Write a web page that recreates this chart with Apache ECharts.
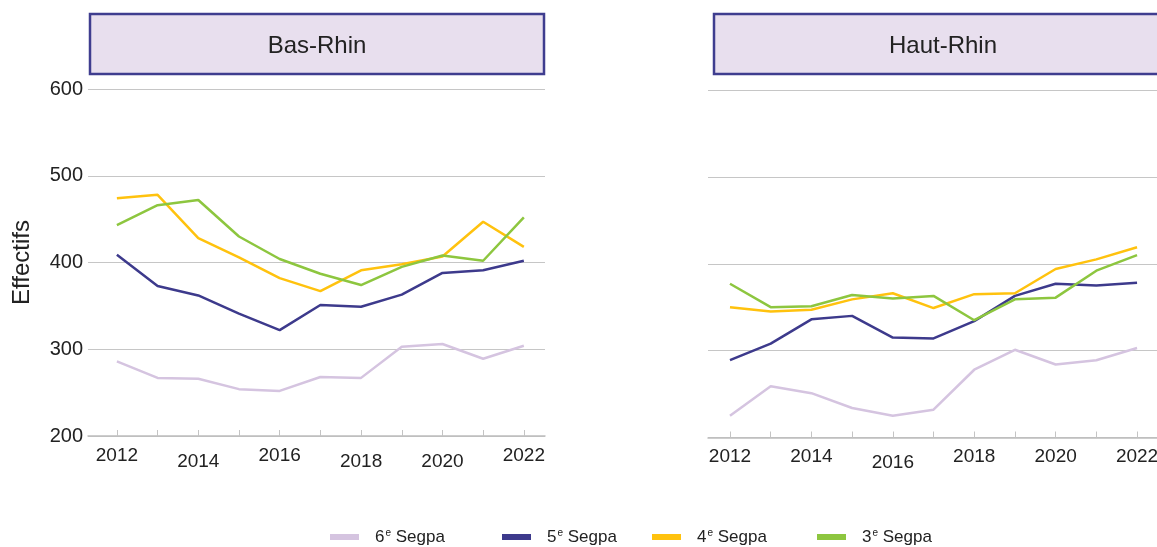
<!DOCTYPE html>
<html>
<head>
<meta charset="utf-8">
<script src="https://cdn.jsdelivr.net/npm/echarts@6/dist/echarts.min.js"></script>
<style>
  html, body { margin: 0; padding: 0; background: #fff; }
  #chart { width: 1157px; height: 547px; }
</style>
</head>
<body>
<div id="chart"></div>
<script>
// données
const years = [2012, 2013, 2014, 2015, 2016, 2017, 2018, 2019, 2020, 2021, 2022]
const yearLabels = [2012, 2014, 2016, 2018, 2020, 2022]
const yTicks = [200, 300, 400, 500, 600]
const panels = ['Bas-Rhin', 'Haut-Rhin']
const seriesNames = ['6e Segpa', '5e Segpa', '4e Segpa', '3e Segpa']

const basRhin6 = [286, 267, 266, 254, 252, 268, 267, 303, 306, 289, 304]
const basRhin5 = [409, 373, 362, 341, 322, 351, 349, 363, 388, 391, 402]
const basRhin4 = [474, 478, 428, 406, 382, 367, 391, 398, 407, 447, 418]
const basRhin3 = [443, 466, 472, 430, 404, 387, 374, 395, 408, 402, 452]

const hautRhin6 = [225, 259, 251, 234, 225, 232, 278, 301, 284, 289, 303]
const hautRhin5 = [289, 308, 336, 340, 315, 314, 334, 363, 377, 375, 378]
const hautRhin4 = [350, 345, 347, 359, 366, 349, 365, 366, 394, 405, 419]
const hautRhin3 = [377, 350, 351, 364, 360, 363, 335, 359, 361, 392, 410]

const colors = ['#d5c4e0', '#3d3a8c', '#ffc20e', '#8dc63f']
const font = 'Liberation Sans'

// décalage vertical des étiquettes d'années (comme sur l'original)
const labelShift = [[0, 1, 0, 1, 1, 0], [0, 0, 1, 0, 0, 0]]

const chart = echarts.init(document.getElementById('chart'), null, { renderer: 'canvas' })

function xAxisFor (gridIndex, min, max) {
  return {
    type: 'value',
    gridIndex: gridIndex,
    min: min,
    max: max,
    axisLine: { show: true, lineStyle: { color: '#bdbdbd', width: 1.5 } },
    axisTick: { show: true, inside: true, length: 6, customValues: years, lineStyle: { color: '#c4c4c4' } },
    splitLine: { show: false },
    axisLabel: {
      customValues: yearLabels,
      margin: 10,
      formatter: (v) => {
        const i = yearLabels.indexOf(v)
        return labelShift[gridIndex][i] ? '{lo|' + v + '}' : '{hi|' + v + '}'
      },
      rich: {
        hi: { fontFamily: font, fontSize: 19, color: '#222' },
        lo: { fontFamily: font, fontSize: 19, color: '#222', padding: [6, 0, 0, 0] }
      }
    }
  }
}

function yAxisFor (gridIndex, showLabels) {
  return {
    type: 'value',
    gridIndex: gridIndex,
    min: 200,
    max: 600,
    interval: 100,
    axisLine: { show: false },
    axisTick: { show: false },
    splitLine: { lineStyle: { color: '#c6c6c6', width: 1 } },
    axisLabel: { show: showLabels, margin: 5, fontFamily: font, fontSize: 20, color: '#222' },
    name: showLabels ? 'Effectifs' : '',
    nameLocation: 'middle',
    nameGap: 54,
    nameTextStyle: { fontFamily: font, fontSize: 24, color: '#222' }
  }
}

function lineSeries (name, idx, values, gridIndex) {
  return {
    name: name,
    type: 'line',
    xAxisIndex: gridIndex,
    yAxisIndex: gridIndex,
    data: values.map((v, i) => [years[i], v]),
    showSymbol: false,
    symbol: 'none',
    lineStyle: { width: 2.5, color: colors[idx] },
    itemStyle: { color: colors[idx] },
    z: 2 + idx
  }
}

function legendName (name) {
  return '{n|' + name.charAt(0) + '}{s|e}{n| ' + name.slice(3) + '}'
}

const legendLeft = [330, 502, 652, 817]

function titleBox (x, w, text) {
  return {
    type: 'rect',
    shape: { x: x, y: 14, width: w, height: 60 },
    style: { fill: '#e8dfee', stroke: '#3f3d8f', lineWidth: 2.5 },
    textContent: {
      style: { text: text, fontFamily: font, fontSize: 24, fill: '#222' }
    },
    textConfig: { position: 'inside', offset: [0, 2] }
  }
}

const option = {
  backgroundColor: '#fff',
  animation: false,
  grid: [
    { left: 88, width: 457, top: 89, height: 347, outerBoundsMode: 'none' },
    { left: 708, width: 449, top: 90, height: 347.5, outerBoundsMode: 'none' }
  ],
  xAxis: [
    xAxisFor(0, 2011.29, 2022.52),
    xAxisFor(1, 2011.46, 2022.49)
  ],
  yAxis: [
    yAxisFor(0, true),
    yAxisFor(1, false)
  ],
  legend: seriesNames.map((name, i) => ({
    data: [name],
    left: legendLeft[i],
    top: 528,
    padding: 0,
    icon: 'rect',
    itemWidth: 29,
    itemHeight: 6,
    selectedMode: false,
    formatter: legendName,
    textStyle: {
      padding: [0, 0, 0, 11],
      rich: {
        n: { fontFamily: font, fontSize: 17, color: '#222' },
        s: { fontFamily: font, fontSize: 10, color: '#222', padding: [0, 0, 8, 1] }
      }
    }
  })),
  graphic: [
    titleBox(90, 454, panels[0]),
    titleBox(714, 458, panels[1])
  ],
  series: [
    lineSeries(seriesNames[0], 0, basRhin6, 0),
    lineSeries(seriesNames[1], 1, basRhin5, 0),
    lineSeries(seriesNames[2], 2, basRhin4, 0),
    lineSeries(seriesNames[3], 3, basRhin3, 0),
    lineSeries(seriesNames[0], 0, hautRhin6, 1),
    lineSeries(seriesNames[1], 1, hautRhin5, 1),
    lineSeries(seriesNames[2], 2, hautRhin4, 1),
    lineSeries(seriesNames[3], 3, hautRhin3, 1)
  ]
}

chart.setOption(option)
</script>
</body>
</html>
